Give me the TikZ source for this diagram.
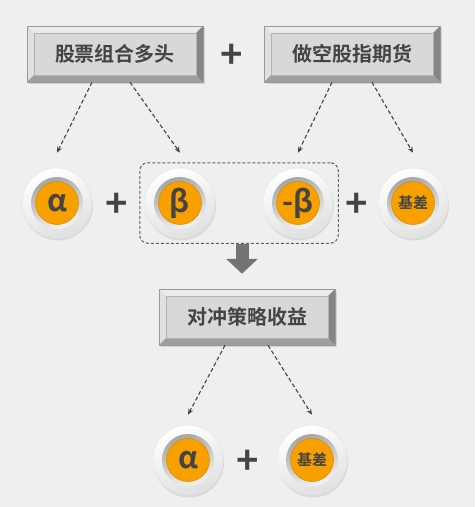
\documentclass[tikz,border=0pt]{standalone}
\usepackage{fontspec}
\setmainfont{Noto Sans CJK SC}[BoldFont={Noto Sans CJK SC Bold}]
\usetikzlibrary{shadows,fit,arrows.meta}

\definecolor{bg}{HTML}{EFEFEF}
\definecolor{ink}{HTML}{444444}
\definecolor{face}{HTML}{D8D8D8}
\definecolor{orng}{HTML}{F8A000}

\begin{document}
\begin{tikzpicture}[x=1pt,y=-1pt,>={Stealth[length=6pt,width=5pt]},
  box/.style={draw=black!40,line width=0.5pt,fill=face,minimum width=176pt,minimum height=56pt,
    inner sep=0pt,text=ink,font=\bfseries\fontsize{20}{24}\selectfont,
    drop shadow={opacity=0.25,shadow xshift=1.5pt,shadow yshift=-2pt},
    path picture={
      \fill[black!8] (path picture bounding box.north west) -- (path picture bounding box.north east)
        -- ([shift={(-7pt,-7pt)}]path picture bounding box.north east) -- ([shift={(7pt,-7pt)}]path picture bounding box.north west) -- cycle;
      \fill[black!12] (path picture bounding box.north west) -- (path picture bounding box.south west)
        -- ([shift={(7pt,7pt)}]path picture bounding box.south west) -- ([shift={(7pt,-7pt)}]path picture bounding box.north west) -- cycle;
      \fill[black!48] (path picture bounding box.north east) -- (path picture bounding box.south east)
        -- ([shift={(-7pt,7pt)}]path picture bounding box.south east) -- ([shift={(-7pt,-7pt)}]path picture bounding box.north east) -- cycle;
      \fill[black!38] (path picture bounding box.south west) -- (path picture bounding box.south east)
        -- ([shift={(-7pt,7pt)}]path picture bounding box.south east) -- ([shift={(7pt,7pt)}]path picture bounding box.south west) -- cycle;
      \draw[black!30,line width=0.4pt] ([shift={(7pt,-7pt)}]path picture bounding box.north west) rectangle ([shift={(-7pt,7pt)}]path picture bounding box.south east);
    }},
  btn/.style={circle,minimum size=70pt,inner sep=0pt,draw=black!10,line width=0.5pt,
    top color=white,bottom color=black!12,shading angle=20,
    text=ink,font=\bfseries\fontsize{30}{30}\selectfont,
    drop shadow={opacity=0.18,shadow xshift=1pt,shadow yshift=-2.5pt},
    path picture={
      \shade[top color=black!40,bottom color=white,shading angle=20] (path picture bounding box.center) circle (26pt);
      \fill[orng,draw=orng!85!black,line width=0.5pt] (path picture bounding box.center) circle (21.5pt);
    }},
  small/.style={font=\bfseries\fontsize{15}{15}\selectfont},
  plus/.style={inner sep=0pt,text=ink,font=\bfseries\fontsize{38}{38}\selectfont},
  link/.style={->,ink,line width=1.1pt,dash pattern=on 4pt off 2.5pt},
  group/.style={draw=ink!85,line width=1pt,dash pattern=on 3pt off 2pt,rounded corners=8pt,inner sep=5pt}
]
  % background
  \fill[bg] (0,0) rectangle (475,507);

  % top row
  \node[box] (long) at (115,54) {股票组合多头};
  \node[box] (short) at (352,54) {做空股指期货};
  \node[plus] (p0) at (232,56) {+};

  % decomposition
  \node[btn] (a1) at (57,203) {α};
  \node[plus] (p1) at (117,205) {+};
  \node[btn] (b1) at (180,203) {β};
  \node[btn] (nb) at (298,203) {-β};
  \node[plus] (p2) at (357,205) {+};
  \node[btn,small] (basis1) at (413,203) {基差};
  \node[group,fit=(b1)(nb)] (grp) {};

  \draw[link] ([xshift=-23pt]long.south) -- ([yshift=15pt]a1.north);
  \draw[link] ([xshift=15pt]long.south) -- ([yshift=15pt]b1.north);
  \draw[link] ([xshift=-20pt]short.south) -- ([yshift=15pt]nb.north);
  \draw[link] ([xshift=20pt]short.south) -- ([yshift=15pt]basis1.north);

  % result
  \node[box] (hedge) at (247,317) {对冲策略收益};
  \draw[black!55,line width=13pt,-{Triangle[width=31pt,length=15pt]},shorten >=15pt]
    ([xshift=3pt]grp.south) -- ([xshift=3pt]grp.south |- hedge.north);

  \node[btn] (a2) at (188,460) {α};
  \node[plus] (p3) at (248,462) {+};
  \node[btn,small] (basis2) at (312,460) {基差};

  \draw[link] ([xshift=-22pt]hedge.south) -- ([yshift=10pt]a2.north);
  \draw[link] ([xshift=21pt]hedge.south) -- ([yshift=10pt]basis2.north);
\end{tikzpicture}
\end{document}
